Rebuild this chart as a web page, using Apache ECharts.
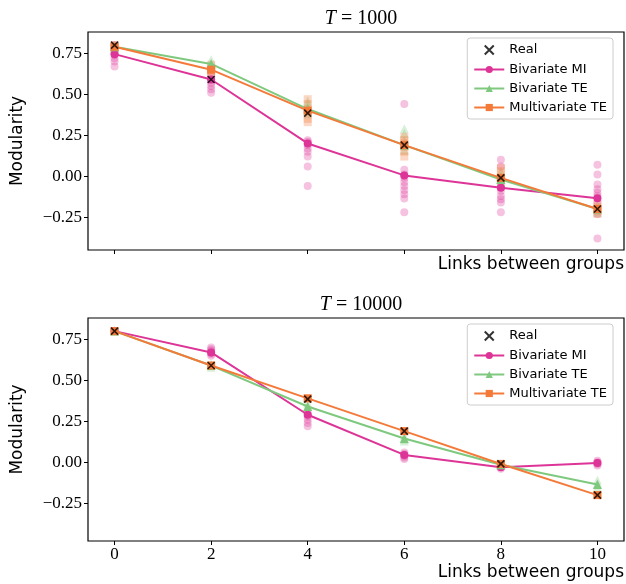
<!DOCTYPE html>
<html>
<head>
<meta charset="utf-8">
<script src="https://cdn.jsdelivr.net/npm/echarts@6/dist/echarts.min.js"></script>
<style>html,body{margin:0;padding:0;background:#fff;}#c{width:626px;height:584px;}</style>
</head>
<body>
<div id="c"></div>
<script>
// ---- data ----
const xs = [0, 2, 4, 6, 8, 10];
const xTicks = [0, 2, 4, 6, 8, 10];
const yTicks = [-0.25, 0, 0.25, 0.5, 0.75];
const panelTitles = ['1000', '10000'];
const legendNames = ['Real', 'Bivariate MI', 'Bivariate TE', 'Multivariate TE'];

const real = [0.80, 0.59, 0.385, 0.19, -0.01, -0.20];

// T = 1000
const miMean1000 = [0.745, 0.59, 0.20, 0.005, -0.07, -0.135];
const teMean1000 = [0.79, 0.685, 0.41, 0.19, -0.02, -0.20];
const mteMean1000 = [0.79, 0.65, 0.40, 0.19, -0.01, -0.20];
const miTrials1000 = [
  [0.80, 0.77, 0.75, 0.74, 0.72, 0.70, 0.67],
  [0.61, 0.59, 0.57, 0.55, 0.53, 0.51],
  [0.22, 0.21, 0.19, 0.17, 0.15, 0.12, 0.06, -0.06],
  [0.44, 0.04, 0.01, -0.01, -0.035, -0.06, -0.085, -0.11, -0.136, -0.22],
  [0.10, 0.06, -0.04, -0.07, -0.09, -0.12, -0.14, -0.16, -0.22],
  [0.07, 0.01, -0.05, -0.08, -0.10, -0.12, -0.16, -0.23, -0.38]
];
const teTrials1000 = [
  [0.80, 0.79, 0.78],
  [0.71, 0.69, 0.67, 0.66],
  [0.46, 0.44, 0.42, 0.40, 0.38],
  [0.29, 0.26, 0.22, 0.19, 0.16],
  [0.03, 0.00, -0.02, -0.04],
  [-0.18, -0.20, -0.22]
];
const mteTrials1000 = [
  [0.80, 0.79, 0.78],
  [0.68, 0.66, 0.64, 0.62],
  [0.47, 0.44, 0.41, 0.38, 0.35, 0.33],
  [0.24, 0.22, 0.20, 0.18, 0.15, 0.12],
  [0.05, 0.03, 0.00, -0.02, -0.04],
  [-0.17, -0.19, -0.21, -0.23]
];

// T = 10000
const miMean10000 = [0.80, 0.67, 0.29, 0.045, -0.03, -0.005];
const teMean10000 = [0.80, 0.59, 0.34, 0.145, -0.015, -0.135];
const mteMean10000 = [0.80, 0.59, 0.39, 0.19, -0.01, -0.20];
const miTrials10000 = [
  [0.80],
  [0.70, 0.69, 0.68, 0.67, 0.66, 0.65],
  [0.30, 0.28, 0.26, 0.24, 0.22],
  [0.06, 0.05, 0.04, 0.03, 0.02],
  [-0.02, -0.03, -0.04],
  [0.01, 0.00, -0.01, -0.02]
];
const teTrials10000 = [
  [0.80],
  [0.60, 0.58],
  [0.36, 0.34, 0.32],
  [0.16, 0.14, 0.13],
  [-0.01, -0.02],
  [-0.11, -0.13, -0.15]
];
const mteTrials10000 = [
  [0.80],
  [0.59],
  [0.39],
  [0.19],
  [-0.01],
  [-0.20]
];

// ---- style ----
const C_MI = '#dd3497', C_TE = '#7fc97f', C_MTE = '#f47a3a';
const XSYM = 'path://M0,0L10,10M10,0L0,10';
const serif = '"Liberation Serif", "DejaVu Serif", serif';
const sans = '"DejaVu Sans", "Open Sans", sans-serif';

const pairs = v => v.map((y, i) => [xs[i], y]);
const trialPairs = t => t.flatMap((vals, i) => vals.map(y => [xs[i], y]));

const panels = [
  {mi: miMean1000, te: teMean1000, mte: mteMean1000, miT: miTrials1000, teT: teTrials1000, mteT: mteTrials1000, top: 32, h: 218, ymin: -0.45, ymax: 0.88, xlab: 15},
  {mi: miMean10000, te: teMean10000, mte: mteMean10000, miT: miTrials10000, teT: teTrials10000, mteT: mteTrials10000, top: 318, h: 223, ymin: -0.48, ymax: 0.88, xlab: 32}
];

const grids = [], xAxes = [], yAxes = [], series = [], titles = [], legends = [], graphics = [];
panels.forEach((p, k) => {
  grids.push({left: 88, width: 536, top: p.top, height: p.h, show: true, borderColor: '#000', borderWidth: 1.2, backgroundColor: 'transparent'});
  xAxes.push({
    type: 'value', gridIndex: k, min: -0.55, max: 10.55, position: 'bottom',
    axisLine: {show: false, onZero: false}, splitLine: {show: false},
    axisTick: {show: true, inside: false, length: 4, lineStyle: {color: '#000', width: 1}, customValues: xTicks},
    axisLabel: {show: k === 1, customValues: xTicks, color: '#000', fontFamily: serif, fontSize: 17, margin: 5}
  });
  yAxes.push({
    type: 'value', gridIndex: k, min: p.ymin, max: p.ymax, position: 'left',
    axisLine: {show: false, onZero: false}, splitLine: {show: false},
    axisTick: {show: true, inside: false, length: 4, lineStyle: {color: '#000', width: 1}, customValues: yTicks},
    axisLabel: {customValues: yTicks, color: '#000', fontFamily: serif, fontSize: 17, margin: 6,
      formatter: v => (v < 0 ? '\u2212' : '') + Math.abs(v).toFixed(2)}
  });
  const base = {xAxisIndex: k, yAxisIndex: k, animation: false, silent: true};
  series.push(Object.assign({type: 'scatter', name: 'mi trials', data: trialPairs(p.miT), symbol: 'circle', symbolSize: 8,
    itemStyle: {color: C_MI, opacity: 0.3}, z: 2}, base));
  series.push(Object.assign({type: 'scatter', name: 'te trials', data: trialPairs(p.teT), symbol: 'triangle', symbolSize: 9,
    itemStyle: {color: C_TE, opacity: 0.3}, z: 2}, base));
  series.push(Object.assign({type: 'scatter', name: 'mte trials', data: trialPairs(p.mteT), symbol: 'rect', symbolSize: 8,
    itemStyle: {color: C_MTE, opacity: 0.3}, z: 2}, base));
  series.push(Object.assign({type: 'line', name: 'Bivariate MI', data: pairs(p.mi), symbol: 'circle', symbolSize: 8, showSymbol: true,
    lineStyle: {color: C_MI, width: 2}, itemStyle: {color: C_MI}, z: 3}, base));
  series.push(Object.assign({type: 'line', name: 'Bivariate TE', data: pairs(p.te), symbol: 'triangle', symbolSize: 9, showSymbol: true,
    lineStyle: {color: C_TE, width: 2}, itemStyle: {color: C_TE}, z: 4}, base));
  series.push(Object.assign({type: 'line', name: 'Multivariate TE', data: pairs(p.mte), symbol: 'rect', symbolSize: 8, showSymbol: true,
    lineStyle: {color: C_MTE, width: 2}, itemStyle: {color: C_MTE}, z: 5}, base));
  series.push(Object.assign({type: 'scatter', name: 'Real', data: pairs(real), symbol: XSYM, symbolSize: 7,
    itemStyle: {color: 'none', borderColor: '#000', borderWidth: 1.6}, z: 6}, base));

  titles.push({text: '{i|T} {n|= ' + panelTitles[k] + '}', left: 356, top: p.top - 28, textAlign: 'center',
    textStyle: {fontFamily: serif, fontSize: 20, fontWeight: 'normal', color: '#000',
      rich: {i: {fontFamily: serif, fontStyle: 'italic', fontSize: 20, color: '#000'},
             n: {fontFamily: serif, fontSize: 20, color: '#000'}}}});
  legends.push({data: legendNames, orient: 'vertical', right: 13, top: p.top + 6, itemWidth: 30, itemHeight: 9, itemGap: 6,
    padding: [5, 6, 5, 6], borderColor: '#ccc', borderWidth: 1, borderRadius: 3, backgroundColor: 'rgba(255,255,255,0.8)',
    textStyle: {fontFamily: sans, fontSize: 13, color: '#000'}, selectedMode: false});
  graphics.push({type: 'text', x: 18, y: p.top + p.h / 2, rotation: Math.PI / 2,
    style: {text: 'Modularity', font: '17px ' + sans, fill: '#000', textAlign: 'center', textVerticalAlign: 'middle'}});
  graphics.push({type: 'text', x: 624, y: p.top + p.h + p.xlab,
    style: {text: 'Links between groups', font: '17px ' + sans, fill: '#000', textAlign: 'right', textVerticalAlign: 'middle'}});
});

const chart = echarts.init(document.getElementById('c'), null, {renderer: 'canvas'});
chart.setOption({
  animation: false,
  title: titles,
  legend: legends,
  grid: grids,
  xAxis: xAxes,
  yAxis: yAxes,
  series: series,
  graphic: graphics
});
</script>
</body>
</html>
